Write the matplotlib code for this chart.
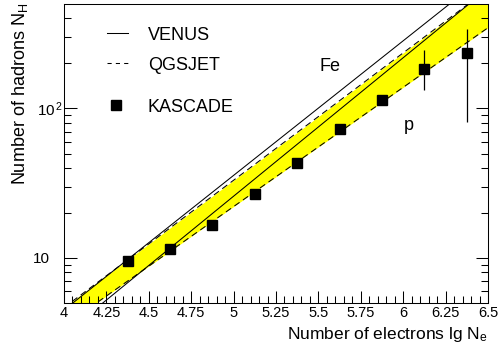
import matplotlib
matplotlib.use("Agg")
import matplotlib.pyplot as plt
from matplotlib.ticker import FixedLocator, NullFormatter, FixedFormatter
from matplotlib.transforms import ScaledTranslation
import numpy as np

plt.rcParams['font.family'] = ['Liberation Sans', 'DejaVu Sans']
plt.rcParams['mathtext.fontset'] = 'custom'
plt.rcParams['mathtext.rm'] = 'Liberation Sans'
plt.rcParams['mathtext.it'] = 'Liberation Sans'
plt.rcParams['mathtext.bf'] = 'Liberation Sans'

# ---- data -------------------------------------------------------------
lg_ne = [4.375, 4.625, 4.875, 5.125, 5.375, 5.625, 5.875, 6.125, 6.375]
n_h = [9.6, 11.5, 16.5, 26.8, 43.2, 72.4, 113.6, 182.7, 236.0]
n_h_err_lo = [0, 0, 0, 0, 0, 0, 0, 50.2, 154.6]
n_h_err_hi = [0, 0, 0, 0, 0, 0, 0, 61.9, 105.0]

model_lg = [4.0, 6.5]
venus_fe = [4.49, 800.0]
venus_p = [3.07, 635.0]
qgsjet_fe = [4.66, 628.0]
qgsjet_p = [3.52, 347.0]

x_ticks = [4.0, 4.25, 4.5, 4.75, 5.0, 5.25, 5.5, 5.75, 6.0, 6.25, 6.5]
x_tick_labels = ['4', '4.25', '4.5', '4.75', '5', '5.25', '5.5', '5.75', '6', '6.25', '6.5']
y_major = [10, 100]
y_major_labels = ['10', r'$\mathregular{10^{\,2}}$']
y_minor = [6, 7, 8, 9, 20, 30, 40, 50, 60, 70, 80, 90, 200, 300, 400]

# ---- figure -----------------------------------------------------------
fig = plt.figure(figsize=(4.98, 3.47), dpi=100)
ax = fig.add_axes([64 / 498, 1 - 303 / 347, 424 / 498, 299 / 347])

ax.set_yscale('log')
ax.set_xlim(4.0, 6.5)
ax.set_ylim(5.0, 500.0)

ax.fill_between(model_lg, qgsjet_p, qgsjet_fe, color='#ffff00', lw=0, zorder=1)
ax.plot(model_lg, qgsjet_fe, color='black', lw=0.75, ls=(0, (6, 4)), zorder=2)
ax.plot(model_lg, qgsjet_p, color='black', lw=0.75, ls=(0, (6, 4)), zorder=2)
ax.plot(model_lg, venus_fe, color='black', lw=0.75, zorder=2)
ax.plot(model_lg, venus_p, color='black', lw=0.75, zorder=2)

ax.errorbar(lg_ne, n_h, yerr=[n_h_err_lo, n_h_err_hi], fmt='s', color='black',
            ms=6.8, elinewidth=0.9, capsize=0, zorder=3)

ax.text(5.509, 177, 'Fe', fontsize=13, ha='left', va='baseline')
ax.text(6.005, 71.6, 'p', fontsize=13, ha='left', va='baseline')

# legend (ROOT-style, drawn manually)
ax.plot([0.1014, 0.1509], [0.903, 0.903], transform=ax.transAxes, color='black', lw=0.75)
ax.plot([0.1014, 0.1509], [0.8027, 0.8027], transform=ax.transAxes, color='black', lw=0.75,
        ls=(0, (4, 4)))
ax.plot([0.1226], [0.662], transform=ax.transAxes, marker='s', color='black', ms=6.8)
ax.text(0.198, 0.8796, 'VENUS', transform=ax.transAxes, fontsize=13, va='baseline')
ax.text(0.198, 0.779, 'QGSJET', transform=ax.transAxes, fontsize=13, va='baseline')
ax.text(0.198, 0.640, 'KASCADE', transform=ax.transAxes, fontsize=13, va='baseline')

# ticks
ax.xaxis.set_major_locator(FixedLocator(x_ticks))
ax.xaxis.set_major_formatter(FixedFormatter(x_tick_labels))
ax.xaxis.set_minor_locator(FixedLocator(np.arange(4.0, 6.5001, 0.05)))
ax.yaxis.set_major_locator(FixedLocator(y_major))
ax.yaxis.set_major_formatter(FixedFormatter(y_major_labels))
ax.yaxis.set_minor_locator(FixedLocator(y_minor))
ax.yaxis.set_minor_formatter(NullFormatter())

ax.tick_params(axis='x', which='major', direction='in', length=9, width=0.75,
               top=False, bottom=True, labelsize=10.5, pad=2)
ax.tick_params(axis='x', which='minor', direction='in', length=4.8, width=0.75,
               top=False, bottom=True)
ax.tick_params(axis='y', which='major', direction='in', length=9, width=0.75,
               left=True, right=True, labelsize=11, pad=10)
ax.tick_params(axis='y', which='minor', direction='in', length=4.8, width=0.75,
               left=True, right=True)

for sp in ax.spines.values():
    sp.set_linewidth(0.75)

fig.canvas.draw()
for t in ax.yaxis.get_major_ticks():
    if t.get_loc() == 100:
        t.label1.set_transform(t.label1.get_transform() +
                               ScaledTranslation(9 / 72, 0, fig.dpi_scale_trans))

fig.text(488 / 498, 8.5 / 347, r'Number of electrons lg N$_{e}$', fontsize=12.5,
         ha='right', va='baseline')
fig.text(25 / 498, 1 - 3 / 347, r'Number of hadrons N$_{H}$', fontsize=13,
         rotation=90, rotation_mode='anchor', ha='right', va='baseline')

fig.savefig('out.png', dpi=100)
